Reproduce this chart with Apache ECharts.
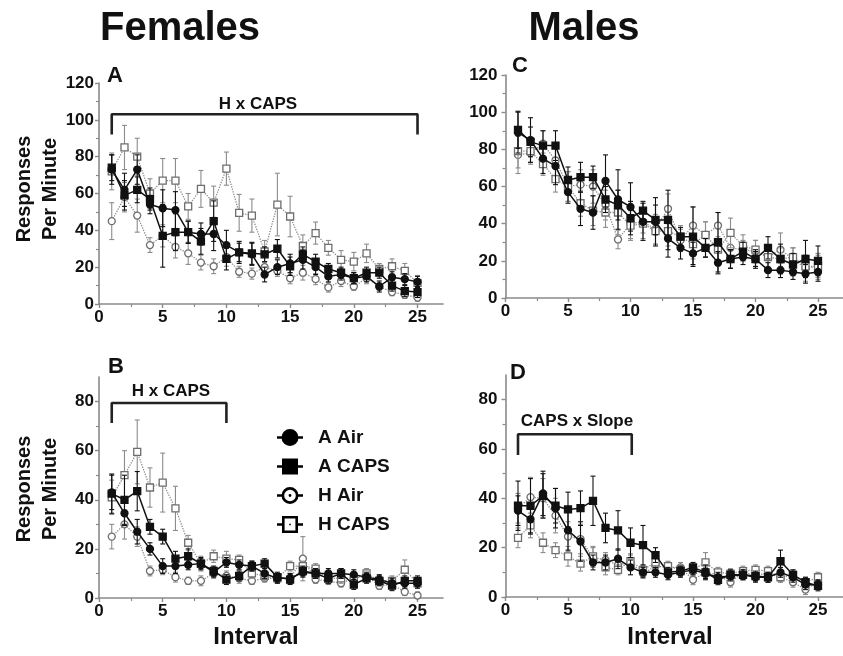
<!DOCTYPE html>
<html>
<head>
<meta charset="utf-8">
<title>Responses per minute by interval</title>
<script src="https://cdn.jsdelivr.net/npm/echarts@6.0.0/dist/echarts.min.js"></script>
<style>
  html, body { margin: 0; padding: 0; background: #fff; }
  #chart { width: 843px; height: 656px; }
</style>
</head>
<body>
<div id="chart"></div>
<script>
// x values shared by every panel
const intervals = [1, 2, 3, 4, 5, 6, 7, 8, 9, 10, 11, 12, 13, 14, 15, 16, 17, 18, 19, 20, 21, 22, 23, 24, 25];
const xTickValues = [0, 5, 10, 15, 20, 25];
const yTicksTall = [0, 20, 40, 60, 80, 100, 120];
const yTicksShort = [0, 20, 40, 60, 80];
const seriesNames = ['A Air', 'A CAPS', 'H Air', 'H CAPS'];

// Panel A - females, top
const aAirA = [73, 62, 73, 54, 52, 51, 39, 38, 38, 32, 28, 27, 16, 20, 22, 24, 20, 15, 16, 14, 15, 9.5, 14.5, 13.5, 12];
const aCapsA = [74, 59, 62, 57, 37, 39, 39, 34, 45, 24.5, 28, 27.5, 27, 30, 20.5, 27, 23, 19, 17, 14, 17, 17, 10, 7, 6.5];
const hAirA = [45, 58, 48, 32, 37, 31, 27.5, 22.5, 20.5, 25.5, 17.5, 16.5, 20, 18, 14, 17, 13.5, 9, 12.5, 9.5, 14, 9.5, 6.5, 5, 3.5];
const hCapsA = [72, 85, 80, 60, 67, 67, 53, 62.5, 55, 73.5, 49.5, 48, 28.5, 54, 47.5, 31.5, 38.5, 30.5, 24, 23, 27.5, 19, 20.5, 18, 11.5];
const aAirSemA = [8, 9, 8, 5, 10, 10, 6, 6, 9, 8, 6, 6, 4, 4, 5, 5, 4, 3, 3, 3, 3, 3, 3, 3, 3];
const aCapsSemA = [7, 8, 7, 6, 17, 10, 6, 7, 11, 6, 5, 6, 4, 5, 5, 4, 4, 3, 3, 3, 3, 3, 3, 3, 3];
const hAirSemA = [10, 8, 9, 4, 6, 6, 6, 4, 4, 5, 3, 3, 3, 3, 3, 4, 3, 2.5, 3, 2, 3, 2, 2, 2, 2];
const hCapsSemA = [10, 12, 10, 8, 12, 12, 7, 10, 9, 9, 10, 9, 6, 17, 11, 6, 6, 4, 5, 5, 5, 3, 4, 4, 4];

// Panel B - females, bottom
const aAirB = [43, 34.5, 27, 20, 13, 13, 13.5, 14, 10.5, 14.5, 13.5, 13, 10, 8, 8, 10.5, 10, 10, 10, 9.5, 8.5, 7.5, 6, 6, 6];
const aCapsB = [42.5, 40, 43.5, 29, 25, 16, 17, 14, 11, 7.5, 9, 13, 14, 8.5, 7.5, 11, 10, 8, 10, 5.5, 8, 7, 5, 7, 7];
const hAirB = [25, 30, 25, 11, 11.5, 8.5, 7, 7, 10, 9, 8, 7, 8, 8, 8, 16, 7.5, 7, 6, 8, 9, 5, 5.5, 2.5, 1];
const hCapsB = [41, 50, 59.5, 45, 47, 36.5, 22.5, 14, 17, 16, 15.5, 10, 9, 8, 13, 13, 12, 8, 8, 8, 10, 7, 7, 11.5, 6];
const aAirSemB = [7, 5, 5, 2.5, 3, 3, 2, 2, 2, 2, 2, 2, 2, 2, 2, 2, 2, 2, 2, 2, 2, 2, 2, 2, 2];
const aCapsSemB = [8, 10, 8, 3, 3, 3, 3, 2.5, 2, 2, 2, 2, 2, 2, 2, 2, 2, 2, 2, 2, 2, 2, 2, 2, 2];
const hAirSemB = [5, 6, 4, 2, 2, 2, 1.5, 2, 2, 2, 2, 1.5, 1.5, 1.5, 2, 9, 1.5, 1.5, 1.5, 1.5, 1.5, 1.5, 1.5, 1.5, 1.5];
const hCapsSemB = [7, 10, 13, 8, 12, 9, 3, 3, 2.5, 3, 2, 2, 2, 2, 2, 2, 2, 2, 2, 2, 2, 2, 2, 4, 2];

// Panel C - males, top
const aAirC = [89, 85, 75, 71, 57, 48, 46, 63, 53, 49, 41, 41, 32, 27, 24, 27, 19, 21, 22, 21, 15, 15, 14, 13, 14];
const aCapsC = [90.5, 84, 82, 82, 63.5, 65, 65, 53, 50, 43, 47, 42, 42, 33, 33, 27, 30, 21, 25, 21, 27, 21, 18, 21, 20];
const hAirC = [77, 78, 83, 74, 60, 61, 60, 50, 31.5, 40, 41, 37, 48, 31, 39, 34, 39, 27, 26, 25, 22, 26, 21, 16, 17];
const hCapsC = [79, 79, 72, 64, 60, 51, 47, 46, 46, 39, 40, 36, 36, 33, 29, 34, 26, 35, 28, 26, 22, 21, 22, 17, 17];
const aAirSemC = [11, 12, 8, 10, 6, 9, 9, 14, 16, 13, 10, 13, 10, 6, 6, 5, 6, 5, 4, 5, 4, 4, 4, 5, 5];
const aCapsSemC = [10, 8, 8, 8, 7, 8, 6, 7, 8, 9, 5, 8, 16, 5, 16, 5, 16, 5, 5, 4, 6, 8, 6, 10, 8];
const hAirSemC = [10, 6, 7, 8, 8, 8, 9, 8, 5, 8, 6, 8, 8, 6, 10, 7, 7, 7, 5, 6, 6, 9, 6, 7, 7];
const hCapsSemC = [9, 6, 6, 7, 8, 7, 8, 8, 12, 8, 8, 7, 8, 6, 8, 7, 7, 8, 6, 5, 5, 6, 5, 6, 6];

// Panel D - males, bottom
const aAirD = [35, 31.5, 42, 36, 27, 22.5, 14, 14, 15.5, 12, 10, 10, 9, 10, 11, 9.5, 8, 8.5, 9, 8, 8, 10, 8, 5, 5];
const aCapsD = [37, 37, 41, 37, 35.5, 36, 39, 28, 27, 22, 21, 17, 10, 10.5, 12, 10, 7, 9, 9, 8.5, 8, 14.5, 9, 6, 4.5];
const hAirD = [36, 40.5, 40, 33, 24.5, 23.5, 16, 15, 13, 14, 9.5, 12.5, 12, 12, 7, 10, 9, 6, 10, 9, 9.5, 8, 6, 3, 6];
const hCapsD = [24, 29, 22, 19, 16.5, 13.5, 16.5, 12, 11, 14.5, 11, 14, 12.5, 11, 11, 14, 10, 9.5, 10.5, 11, 10.5, 8, 9, 6, 8];
const aAirSemD = [6, 6, 9, 8, 8, 8, 3, 3, 4, 3, 2, 2, 2, 2, 2, 2, 2, 2, 2, 2, 2, 2, 2, 2, 2];
const aCapsSemD = [10, 11, 9, 7, 7, 7, 10, 6, 8, 6, 8, 3, 2, 2, 2, 3, 2, 2, 2, 2, 2, 4.5, 2, 2, 2];
const hAirSemD = [6, 8, 8, 7, 6, 6, 4, 3, 3, 3, 2, 2, 2, 2, 2, 2, 2, 2, 2, 2, 2, 2, 2, 2, 2];
const hCapsSemD = [4, 5, 4, 3, 4, 3, 4, 3, 2, 3, 2, 2, 2, 2, 2, 4, 2, 2, 2, 2, 2, 2, 2, 2, 2];

// significance brackets: [from interval, to interval, leg bottom, bar height]
const bracketA = [1, 25, 92, 103];
const bracketB = [1, 10, 71.3, 79.4];
const bracketD = [1, 10.1, 57.6, 66];

const FONT = '"Liberation Sans", Arial, Helvetica, sans-serif';
const AXIS_GRAY = '#8a8a8a';

const chart = echarts.init(document.getElementById('chart'));

// grid order: 0 = A, 1 = C, 2 = B, 3 = D
const grids = [
  { left: 99, top: 83, width: 344, height: 221 },
  { left: 505.5, top: 75, width: 345.6, height: 223 },
  { left: 99, top: 377, width: 344, height: 221 },
  { left: 505.5, top: 375, width: 345.6, height: 222 }
];

const panels = [
  { yMax: 120, yTicks: yTicksTall, margin: 5, vals: [aAirA, aCapsA, hAirA, hCapsA], sems: [aAirSemA, aCapsSemA, hAirSemA, hCapsSemA], bracket: bracketA },
  { yMax: 120, yTicks: yTicksTall, margin: 8, vals: [aAirC, aCapsC, hAirC, hCapsC], sems: [aAirSemC, aCapsSemC, hAirSemC, hCapsSemC], bracket: null },
  { yMax: 90, yTicks: yTicksShort, margin: 5, vals: [aAirB, aCapsB, hAirB, hCapsB], sems: [aAirSemB, aCapsSemB, hAirSemB, hCapsSemB], bracket: bracketB },
  { yMax: 90, yTicks: yTicksShort, margin: 8, vals: [aAirD, aCapsD, hAirD, hCapsD], sems: [aAirSemD, aCapsSemD, hAirSemD, hCapsSemD], bracket: bracketD }
];

// look of each group: filled black for A, open gray for H
const looks = [
  { symbol: 'circle', fill: '#111', border: '#111', line: '#111', lineType: 'solid', bar: '#111', z: 6 },
  { symbol: 'rect', fill: '#111', border: '#111', line: '#111', lineType: 'solid', bar: '#111', z: 7 },
  { symbol: 'circle', fill: '#fff', border: '#6e6e6e', line: '#8c8c8c', lineType: 'dotted', bar: '#8c8c8c', z: 4 },
  { symbol: 'rect', fill: '#fff', border: '#6e6e6e', line: '#8c8c8c', lineType: 'dotted', bar: '#8c8c8c', z: 5 }
];

const labelStyle = { color: '#111', fontFamily: FONT, fontWeight: 'bold', fontSize: 17 };
const axisLineStyle = { color: AXIS_GRAY, width: 1.6 };

const xAxes = grids.map((g, i) => ({
  type: 'value', gridIndex: i, min: 0, max: 27, interval: 5,
  axisLine: { show: true, onZero: false, lineStyle: axisLineStyle },
  axisTick: { show: true, length: 4, customValues: xTickValues, lineStyle: { color: AXIS_GRAY, width: 1.4 } },
  minorTick: { show: true, splitNumber: 2, length: 3, lineStyle: { color: AXIS_GRAY, width: 1.2 } },
  splitLine: { show: false },
  axisLabel: Object.assign({ margin: 5, customValues: xTickValues }, labelStyle)
}));

const yAxes = panels.map((p, i) => ({
  type: 'value', gridIndex: i, min: 0, max: p.yMax, interval: 20,
  axisLine: { show: true, onZero: false, lineStyle: axisLineStyle },
  axisTick: { show: true, length: 4, customValues: p.yTicks, lineStyle: { color: AXIS_GRAY, width: 1.4 } },
  minorTick: { show: true, splitNumber: 2, length: 3, lineStyle: { color: AXIS_GRAY, width: 1.2 } },
  splitLine: { show: false },
  axisLabel: Object.assign({ margin: p.margin, customValues: p.yTicks }, labelStyle)
}));

function errorBars(gridIdx, means, sems, color, z) {
  return {
    type: 'custom', xAxisIndex: gridIdx, yAxisIndex: gridIdx, z: z, silent: true,
    data: intervals.map((x, k) => [x, means[k], sems[k]]),
    encode: { x: 0, y: 1 },
    renderItem: function (params, api) {
      const x = api.value(0), m = api.value(1), e = api.value(2);
      const top = api.coord([x, m + e]);
      const bot = api.coord([x, Math.max(0, m - e)]);
      const cap = 2.5;
      const style = { stroke: color, lineWidth: 1.1 };
      return {
        type: 'group',
        children: [
          { type: 'line', shape: { x1: top[0], y1: top[1], x2: bot[0], y2: bot[1] }, style: style },
          { type: 'line', shape: { x1: top[0] - cap, y1: top[1], x2: top[0] + cap, y2: top[1] }, style: style },
          { type: 'line', shape: { x1: bot[0] - cap, y1: bot[1], x2: bot[0] + cap, y2: bot[1] }, style: style }
        ]
      };
    }
  };
}

const series = [];
panels.forEach((p, gi) => {
  p.vals.forEach((vals, si) => {
    const look = looks[si];
    series.push(errorBars(gi, vals, p.sems[si], look.bar, look.z - 0.5));
    series.push({
      type: 'line', name: seriesNames[si], xAxisIndex: gi, yAxisIndex: gi, z: look.z,
      data: intervals.map((x, k) => [x, vals[k]]),
      symbol: look.symbol, symbolSize: 7, showSymbol: true,
      itemStyle: { color: look.fill, borderColor: look.border, borderWidth: 1.3 },
      lineStyle: { color: look.line, width: look.lineType === 'solid' ? 1.5 : 1.3, type: look.lineType },
      emphasis: { disabled: true }, silent: true
    });
  });
  if (p.bracket) {
    const b = p.bracket;
    series.push({
      type: 'line', name: 'bracket', xAxisIndex: gi, yAxisIndex: gi, z: 3, silent: true,
      data: [[b[0], b[2]], [b[0], b[3]], [b[1], b[3]], [b[1], b[2]]],
      symbol: 'none', lineStyle: { color: '#222', width: 2.6 }
    });
  }
});

// legend icons drawn in a 26x18 box, line stubs + marker
const ICON_FILLED_CIRCLE = 'path://M0 7.8H26V10.2H0Z M4.5 9A8.5 8.5 0 1 1 21.5 9A8.5 8.5 0 1 1 4.5 9Z';
const ICON_FILLED_SQUARE = 'path://M0 7.8H26V10.2H0Z M5 1H21V17H5Z';
const ICON_OPEN_CIRCLE = 'path://M0 7.8H5.5V10.2H0Z M20.5 7.8H26V10.2H20.5Z M4.5 9A8.5 8.5 0 1 1 21.5 9A8.5 8.5 0 1 1 4.5 9Z M7.2 9A5.8 5.8 0 1 0 18.8 9A5.8 5.8 0 1 0 7.2 9Z M11.6 9A1.4 1.4 0 1 1 14.4 9A1.4 1.4 0 1 1 11.6 9Z';
const ICON_OPEN_SQUARE = 'path://M0 7.8H5.5V10.2H0Z M20.5 7.8H26V10.2H20.5Z M5 0.5H21V17.5H5Z M7.6 3.1V14.9H18.4V3.1Z M12.2 8.2H13.8V9.8H12.2Z';
const legendIcons = [ICON_FILLED_CIRCLE, ICON_FILLED_SQUARE, ICON_OPEN_CIRCLE, ICON_OPEN_SQUARE];

const txt = (x, y, text, size, extra) => Object.assign({
  type: 'text', x: x, y: y, silent: true,
  style: { text: text, font: 'bold ' + size + 'px ' + FONT, fill: '#111', textAlign: 'center', textVerticalAlign: 'middle' }
}, extra || {});

const graphic = [
  txt(180, 29, 'Females', 40),
  txt(584, 29, 'Males', 40),
  txt(107, 76, 'A', 22, { style: { text: 'A', font: 'bold 22px ' + FONT, fill: '#111', textAlign: 'left', textVerticalAlign: 'middle' } }),
  txt(512, 66, 'C', 22, { style: { text: 'C', font: 'bold 22px ' + FONT, fill: '#111', textAlign: 'left', textVerticalAlign: 'middle' } }),
  txt(108, 367, 'B', 22, { style: { text: 'B', font: 'bold 22px ' + FONT, fill: '#111', textAlign: 'left', textVerticalAlign: 'middle' } }),
  txt(510, 373, 'D', 22, { style: { text: 'D', font: 'bold 22px ' + FONT, fill: '#111', textAlign: 'left', textVerticalAlign: 'middle' } }),
  txt(258, 104, 'H x CAPS', 17),
  txt(171, 391, 'H x CAPS', 17),
  txt(577, 421, 'CAPS x Slope', 17),
  txt(37.5, 189, '', 20, { rotation: Math.PI / 2, style: { text: 'Responses\nPer Minute', font: 'bold 20px ' + FONT, lineHeight: 26, fill: '#111', textAlign: 'center', textVerticalAlign: 'middle' } }),
  txt(37.5, 489, '', 20, { rotation: Math.PI / 2, style: { text: 'Responses\nPer Minute', font: 'bold 20px ' + FONT, lineHeight: 26, fill: '#111', textAlign: 'center', textVerticalAlign: 'middle' } }),
  txt(256, 637, 'Interval', 24),
  txt(670, 637, 'Interval', 24)
];

chart.setOption({
  animation: false,
  backgroundColor: '#fff',
  grid: grids,
  xAxis: xAxes,
  yAxis: yAxes,
  legend: {
    left: 272, top: 423, orient: 'vertical',
    itemWidth: 26, itemHeight: 18, itemGap: 10, selectedMode: false,
    textStyle: { fontFamily: FONT, fontWeight: 'bold', fontSize: 19, color: '#111', padding: [0, 0, 0, 10] },
    data: seriesNames.map((n, i) => ({ name: n, icon: legendIcons[i], itemStyle: { color: '#000', borderWidth: 0 } }))
  },
  series: series,
  graphic: graphic
});
</script>
</body>
</html>
